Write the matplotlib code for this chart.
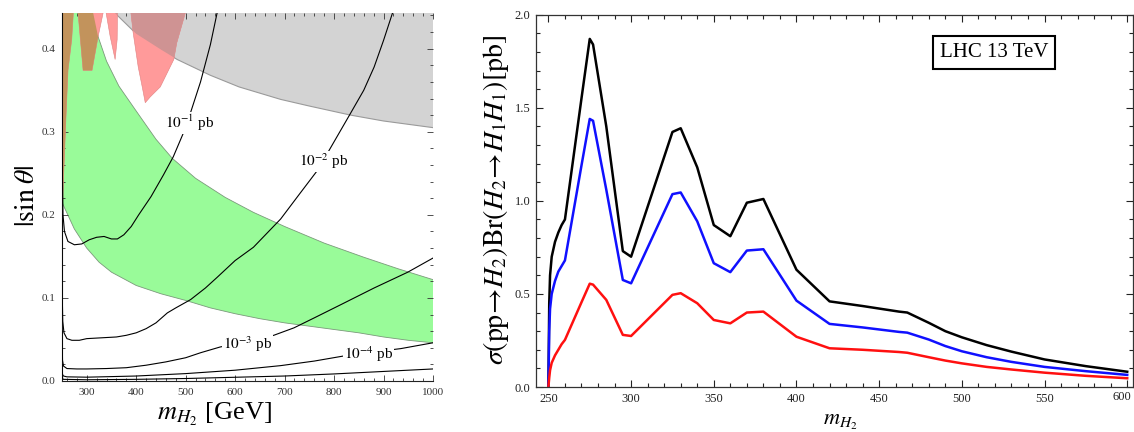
import matplotlib
matplotlib.use('Agg')
import matplotlib.pyplot as plt
from matplotlib.patches import Polygon, Rectangle
from matplotlib.ticker import MultipleLocator

plt.rcParams['font.family'] = ['Liberation Serif', 'DejaVu Serif']
plt.rcParams['mathtext.fontset'] = 'stix'

# ---------------- left panel data ----------------
# green band (upper / lower edge of |sin theta| vs m_H2)
m_green_up = [250, 305, 313, 323, 340, 365, 400, 440, 473, 520, 580, 637, 700, 780, 860, 930, 1000]
s_green_up = [0.47, 0.47, 0.443, 0.4145, 0.385, 0.355, 0.325, 0.291, 0.268, 0.244, 0.221, 0.203, 0.186, 0.166, 0.149, 0.135, 0.122]
m_green_lo = [250, 275, 300, 325, 350, 400, 450, 500, 550, 600, 650, 700, 750, 800, 850, 900, 950, 1000]
s_green_lo = [0.215, 0.183, 0.160, 0.143, 0.131, 0.115, 0.105, 0.097, 0.088, 0.081, 0.075, 0.070, 0.066, 0.062, 0.058, 0.053, 0.049, 0.046]

# grey excluded region (lower edge)
m_gray = [345, 357, 400, 450, 483, 550, 608, 692, 750, 834, 900, 1000]
s_gray = [0.46, 0.443, 0.418, 0.399, 0.387, 0.368, 0.354, 0.339, 0.331, 0.320, 0.313, 0.305]

# red excluded spikes
red0_m = [250, 273.5, 273, 269.7, 262.2, 258.1, 253, 250.6, 250]
red0_s = [0.46, 0.46, 0.443, 0.411, 0.374, 0.318, 0.242, 0.20, 0.20]
red1_m = [281.5, 282.4, 292.6, 310.8, 323, 333.1, 335]
red1_s = [0.46, 0.443, 0.374, 0.374, 0.4145, 0.443, 0.46]
red2_m = [339, 339.2, 347.3, 357.4, 361.5, 362.1, 362.2]
red2_s = [0.46, 0.443, 0.415, 0.387, 0.411, 0.443, 0.46]
red3_m = [389, 389.3, 393.9, 404.1, 412.2, 418.3, 428.4, 448.7, 476.0, 482.0, 499.3, 501]
red3_s = [0.46, 0.443, 0.419, 0.378, 0.354, 0.335, 0.342, 0.354, 0.387, 0.407, 0.443, 0.46]

# contours of sigma x BR
c1_m = [250.3, 250.8, 252, 255, 262, 275, 290, 305, 320, 335, 350, 362, 375, 390, 405, 430, 455, 475, 500, 530, 550, 566]
c1_s = [0.46, 0.25, 0.20, 0.18, 0.168, 0.164, 0.165, 0.170, 0.173, 0.174, 0.171, 0.171, 0.176, 0.186, 0.200, 0.222, 0.248, 0.270, 0.305, 0.360, 0.405, 0.45]
c2_m = [250.2, 250.6, 251.5, 254, 260, 270, 285, 300, 330, 360, 380, 400, 420, 440, 463, 480, 510, 540, 564, 600, 637, 692, 730, 767, 800, 834, 860, 881, 900, 922]
c2_s = [0.20, 0.10, 0.072, 0.058, 0.051, 0.049, 0.049, 0.051, 0.052, 0.053, 0.055, 0.058, 0.063, 0.070, 0.082, 0.088, 0.098, 0.112, 0.125, 0.145, 0.161, 0.195, 0.225, 0.254, 0.288, 0.323, 0.350, 0.378, 0.410, 0.45]
c3_m = [250.2, 251, 253, 260, 280, 300, 340, 380, 420, 460, 500, 530, 570, 625, 678, 719, 760, 814, 881, 949, 1000]
c3_s = [0.06, 0.025, 0.018, 0.015, 0.0145, 0.0145, 0.015, 0.016, 0.019, 0.023, 0.028, 0.034, 0.041, 0.047, 0.055, 0.064, 0.076, 0.092, 0.112, 0.131, 0.148]
c4_m = [250.2, 251, 253, 260, 300, 400, 500, 600, 692, 760, 828, 880, 935, 1000]
c4_s = [0.02, 0.008, 0.006, 0.005, 0.0046, 0.006, 0.0089, 0.013, 0.0185, 0.024, 0.031, 0.035, 0.039, 0.046]
c5_m = [250.2, 252, 300, 400, 500, 600, 700, 800, 900, 1000]
c5_s = [0.006, 0.002, 0.0015, 0.002, 0.003, 0.0045, 0.006, 0.0085, 0.0115, 0.0145]
contour_labels = [r'$10^{-1}$ pb', r'$10^{-2}$ pb', r'$10^{-3}$ pb', r'$10^{-4}$ pb']
label_m = [508, 779, 625, 870]
label_s = [0.311, 0.264, 0.044, 0.032]

# ---------------- right panel data ----------------
mH2 = [250, 250.5, 251, 252, 254, 256, 258, 260, 270, 275, 277, 285, 295, 300, 325, 330, 340, 350, 360, 370, 380,
       400, 420, 440, 462, 467, 480, 490, 500, 515, 530, 550, 575, 600]
xs_black = [0, 0.45, 0.60, 0.70, 0.78, 0.83, 0.87, 0.90, 1.55, 1.87, 1.84, 1.40, 0.73, 0.70, 1.37, 1.39, 1.18, 0.87, 0.81, 0.99, 1.01,
            0.63, 0.46, 0.435, 0.405, 0.40, 0.345, 0.30, 0.267, 0.225, 0.19, 0.148, 0.112, 0.082]
xs_blue = [0, 0.30, 0.42, 0.50, 0.57, 0.62, 0.65, 0.68, 1.19, 1.44, 1.43, 1.06, 0.575, 0.557, 1.036, 1.045, 0.89, 0.665, 0.617, 0.733, 0.74,
           0.464, 0.339, 0.32, 0.296, 0.292, 0.255, 0.22, 0.192, 0.16, 0.135, 0.108, 0.085, 0.065]
xs_red = [0, 0.05, 0.09, 0.13, 0.17, 0.20, 0.23, 0.253, 0.455, 0.555, 0.55, 0.468, 0.28, 0.274, 0.495, 0.504, 0.45, 0.36, 0.342, 0.40, 0.405,
          0.27, 0.208, 0.20, 0.188, 0.184, 0.16, 0.142, 0.127, 0.108, 0.094, 0.077, 0.06, 0.047]
r_xticks = [250, 300, 350, 400, 450, 500, 550, 600]
r_xticklabels = ['250', '300', '350', '400', '450', '500', '550', '600']

W, H = 1134, 432
fig = plt.figure(figsize=(W / 100, H / 100), dpi=100)
axL = fig.add_axes([62 / W, 1 - 381 / H, (433 - 62) / W, (381 - 13) / H])
axR = fig.add_axes([536 / W, 1 - 387 / H, (1133 - 536) / W, (387 - 14.7) / H])

# ---- left panel ----
GREEN = '#99fb99'
PINK = '#ff9a9a'
BROWN = '#c2935c'
GRAY = '#d3d3d3'
ROSY = '#cf9393'

green_pts = list(zip(m_green_up, s_green_up)) + list(zip(m_green_lo, s_green_lo))[::-1]
green_patch = Polygon(green_pts, closed=True, fc=GREEN, ec='none', zorder=1)
axL.add_patch(green_patch)
axL.plot(m_green_up, s_green_up, color='#7a9a7a', lw=0.6, zorder=1.5)
axL.plot(m_green_lo, s_green_lo, color='#7a9a7a', lw=0.6, zorder=1.5)

gray_pts = list(zip(m_gray, s_gray)) + [(1000, 0.5), (m_gray[0], 0.5)]
gray_patch = Polygon(gray_pts, closed=True, fc=GRAY, ec='none', zorder=1)
axL.add_patch(gray_patch)
axL.plot(m_gray, s_gray, color='#9a9a9a', lw=0.8, zorder=1.5)

for rm, rs in [(red0_m, red0_s), (red1_m, red1_s), (red2_m, red2_s), (red3_m, red3_s)]:
    pts = list(zip(rm, rs))
    axL.add_patch(Polygon(pts, closed=True, fc=PINK, ec='#e08080', lw=0.4, zorder=2))
    p = Polygon(pts, closed=True, fc=BROWN, ec='none', zorder=2.1)
    axL.add_patch(p)
    p.set_clip_path(green_patch)
    q = Polygon(pts, closed=True, fc=ROSY, ec='none', zorder=2.1)
    axL.add_patch(q)
    q.set_clip_path(gray_patch)

axL.plot([250.4, 250.4], [0.2, 0.45], color='#2e7d2e', lw=1.2, zorder=2.5)

for cm, cs in [(c1_m, c1_s), (c2_m, c2_s), (c3_m, c3_s), (c4_m, c4_s), (c5_m, c5_s)]:
    axL.plot(cm, cs, color='black', lw=0.8, zorder=3)
for t, lm, ls in zip(contour_labels, label_m, label_s):
    axL.text(lm, ls, t, fontsize=11, ha='center', va='center', zorder=4,
             bbox=dict(boxstyle='square,pad=0.05', fc='white', ec='none'))

axL.set_xlim(250, 1000)
axL.set_ylim(0, 0.443)
axL.xaxis.set_minor_locator(MultipleLocator(20))
axL.yaxis.set_minor_locator(MultipleLocator(0.02))
axL.set_xticks([300, 400, 500, 600, 700, 800, 900, 1000])
axL.set_yticks([0.0, 0.1, 0.2, 0.3, 0.4])
axL.set_yticklabels(['0.0', '0.1', '0.2', '0.3', '0.4'])
axL.tick_params(which='both', direction='in', top=True, right=True, labelsize=8, colors='#333333', width=0.6)
axL.tick_params(which='major', length=4, pad=5)
axL.tick_params(which='minor', length=2)
for sp in ['top', 'right']:
    axL.spines[sp].set_visible(False)
for sp in ['left', 'bottom']:
    axL.spines[sp].set_linewidth(0.8)
    axL.spines[sp].set_color('#222222')

fig.text(27 / W, 1 - 196 / H, r'$|\mathrm{sin}\;\theta|$', rotation=90, fontsize=20, ha='center', va='center')
fig.text(214 / W, 1 - 414 / H, r'$m_{H_2}$ [GeV]', fontsize=19, ha='center', va='center')

# ---- right panel ----
axR.plot(mH2, xs_black, color='black', lw=1.8)
axR.plot(mH2, xs_blue, color='#1010ff', lw=1.8)
axR.plot(mH2, xs_red, color='#ff1010', lw=1.8)
axR.set_xlim(242.5, 603.5)
axR.set_ylim(0, 2.0)
axR.xaxis.set_minor_locator(MultipleLocator(10))
axR.yaxis.set_minor_locator(MultipleLocator(0.1))
axR.set_xticks(r_xticks)
axR.set_xticklabels(r_xticklabels[:-1] + [''])
axR.set_yticks([0.0, 0.5, 1.0, 1.5, 2.0])
axR.set_yticklabels(['0.0', '0.5', '1.0', '1.5', '2.0'])
axR.tick_params(which='both', direction='in', top=True, right=True, labelsize=9, colors='#222222', width=0.8)
axR.tick_params(which='major', length=5, pad=4)
axR.tick_params(which='minor', length=3)
for sp in axR.spines.values():
    sp.set_linewidth(0.9)
    sp.set_color('#333333')
# last x tick label nudged left so it stays inside the picture
fig.text(1122 / W, 1 - 391 / H, r_xticklabels[-1], fontsize=9, color='#222222', ha='center', va='top')

fig.text(496 / W, 1 - 200 / H,
         r'$\sigma(\mathrm{pp}\!\rightarrow\!H_2)\mathrm{Br}(H_2\!\rightarrow\!H_1H_1)[\mathrm{pb}]$',
         rotation=90, fontsize=20, ha='center', va='center')
fig.text(840 / W, 0.5 / H, r'$m_{H_2}$', fontsize=16, ha='center', va='bottom')

fig.patches.append(Rectangle((933 / W, 1 - 69 / H), 122 / W, 33 / H, transform=fig.transFigure,
                             fc='white', ec='black', lw=1.5, zorder=5))
fig.text(994 / W, 1 - 52.5 / H, 'LHC 13 TeV', fontsize=15, ha='center', va='center', zorder=6)

fig.savefig('out.png', dpi=100)
